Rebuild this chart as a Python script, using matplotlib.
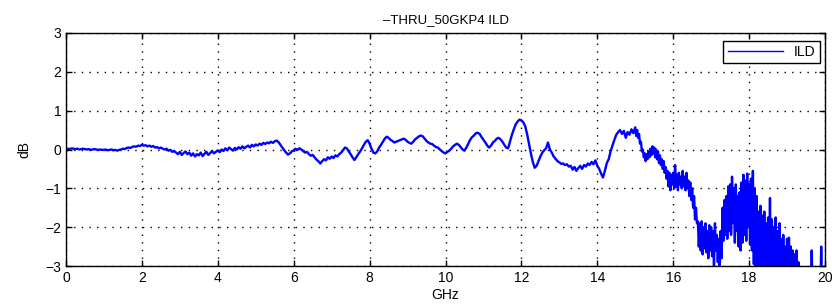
import numpy as np
import matplotlib
matplotlib.use("Agg")
import matplotlib.pyplot as plt

plt.rcParams["font.family"] = ["Liberation Sans", "DejaVu Sans"]

title = "\u2013THRU_50GKP4 ILD"
x_label = "GHz"
y_label = "dB"
series_name = "ILD"

# 0 .. 14.95 GHz, 0.05 GHz steps
ild_low = [
    0.0, 0.02, 0.01, 0.03, 0.02, 0.01, 0.02, 0.0, 0.01, 0.02, 0.01, 0.0, 0.01, -0.01, 0.0, 0.01, 0.0, -0.01, 0.0, -0.01,
    -0.01, 0.0, -0.02, -0.01, 0.0, -0.02, -0.01, -0.03, -0.01, 0.0, 0.02, 0.01, 0.04, 0.05, 0.04, 0.07, 0.08, 0.07, 0.1, 0.09,
    0.12, 0.1, 0.11, 0.08, 0.1, 0.07, 0.09, 0.05, 0.06, 0.03, 0.05, 0.02, 0.0, 0.02, -0.03, -0.01, -0.06, -0.04, -0.08, -0.12,
    -0.06, -0.14, -0.09, -0.05, -0.12, -0.08, -0.16, -0.1, -0.18, -0.12, -0.15, -0.08, -0.17, -0.11, -0.06, -0.14, -0.09, -0.04, -0.1, -0.06,
    -0.02, -0.07, 0.0, -0.04, 0.03, -0.02, 0.05, 0.01, -0.03, 0.04, 0.0, 0.06, 0.02, 0.08, 0.03, 0.07, 0.1, 0.05, 0.12, 0.08,
    0.13, 0.1, 0.15, 0.12, 0.17, 0.14, 0.18, 0.16, 0.2, 0.17, 0.21, 0.23, 0.19, 0.12, 0.05, -0.02, -0.08, -0.13, -0.1, -0.05,
    -0.02, 0.02, -0.01, 0.03, 0.0, -0.04, -0.08, -0.06, -0.12, -0.16, -0.14, -0.2, -0.26, -0.3, -0.36, -0.3, -0.25, -0.28, -0.2, -0.24,
    -0.18, -0.22, -0.15, -0.18, -0.12, -0.08, -0.02, 0.05, 0.03, -0.05, -0.12, -0.2, -0.27, -0.2, -0.12, -0.05, 0.03, 0.12, 0.2, 0.24,
    0.15, 0.02, -0.08, -0.1, -0.05, 0.05, 0.12, 0.2, 0.28, 0.33, 0.3, 0.25, 0.22, 0.18, 0.2, 0.22, 0.24, 0.26, 0.28, 0.25,
    0.2, 0.17, 0.15, 0.2, 0.26, 0.3, 0.34, 0.36, 0.34, 0.28, 0.22, 0.18, 0.15, 0.14, 0.1, 0.06, 0.05, 0.0, -0.04, -0.08,
    -0.1, -0.06, -0.03, 0.02, 0.08, 0.12, 0.15, 0.12, 0.06, 0.0, -0.03, 0.05, 0.15, 0.25, 0.32, 0.36, 0.42, 0.43, 0.4, 0.32,
    0.25, 0.18, 0.1, 0.05, 0.1, 0.18, 0.22, 0.28, 0.3, 0.26, 0.2, 0.12, 0.05, 0.03, 0.2, 0.38, 0.52, 0.65, 0.72, 0.77,
    0.75, 0.7, 0.6, 0.4, 0.15, -0.1, -0.32, -0.47, -0.42, -0.3, -0.18, -0.08, -0.02, 0.03, 0.18, 0.0, -0.08, -0.18, -0.24, -0.3,
    -0.33, -0.37, -0.36, -0.4, -0.38, -0.44, -0.42, -0.52, -0.45, -0.55, -0.48, -0.42, -0.5, -0.4, -0.44, -0.36, -0.4, -0.32, -0.38, -0.28,
    -0.42, -0.5, -0.62, -0.72, -0.55, -0.35, -0.25, -0.05, 0.1, 0.25, 0.38, 0.45, 0.5, 0.4, 0.48, 0.3, 0.45, 0.38, 0.52, 0.42,
]

# 15 .. 20 GHz, 0.025 GHz steps (noisy part)
ild_high = [
    0.57, 0.35, 0.5, 0.3, 0.4, 0.15, 0.2, -0.05, 0.0, -0.2, -0.1, -0.3, -0.12, -0.25, -0.05, -0.2, 0.02, -0.15, 0.08, -0.1,
    0.05, -0.2, 0.0, -0.25, -0.05, -0.35, -0.15, -0.4, -0.25, -0.5, -0.3, -0.6, -0.45, -0.75, -0.55, -0.95, -0.6, -1.05, -0.65, -0.9,
    -0.6, -1.0, -0.4, -0.95, -0.65, -1.05, -0.6, -0.9, -0.7, -1.0, -0.55, -0.95, -0.7, -1.05, -0.6, -1.0, -0.8, -1.2, -0.85, -1.3,
    -1.0, -1.5, -1.2, -1.8, -1.5, -1.9, -1.85, -2.5, -1.9, -2.6, -1.85, -2.7, -2.0, -2.55, -1.9, -2.65, -2.1, -2.8, -1.95, -2.6,
    -2.0, -2.75, -2.1, -3.05, -1.9, -2.6, -2.2, -2.9, -2.3, -3.1, -2.1, -2.8, -1.5, -2.35, -1.3, -2.2, -1.2, -2.3, -0.95, -2.1,
    -0.9, -2.2, -0.7, -1.9, -1.0, -2.4, -0.9, -2.1, -1.2, -2.5, -1.1, -2.6, -0.85, -2.4, -0.65, -2.2, -0.8, -2.35, -0.62, -2.0,
    -0.9, -2.45, -0.75, -2.6, -0.55, -2.95, -1.0, -3.1, -1.2, -3.2, -1.6, -3.3, -1.45, -3.2, -1.7, -3.3, -1.6, -3.4, -1.9, -3.3,
    -1.75, -3.3, -1.25, -3.4, -1.8, -3.2, -2.0, -3.4, -1.75, -3.5, -2.1, -3.3, -1.9, -3.4, -2.3, -3.5, -2.2, -3.4, -2.5, -3.5,
    -2.3, -3.5, -2.27, -3.6, -2.5, -3.5, -2.6, -3.6, -2.7, -3.5, -2.6, -3.6, -2.9, -3.6, -3.1, -3.7, -3.2, -3.6, -3.3, -3.7,
    -3.4, -3.8, -3.2, -3.7, -3.5, -3.8, -2.6, -3.7, -3.3, -3.9, -3.4, -3.8, -3.5, -3.9, -3.3, -3.8, -2.5, -3.9, -3.4, -3.8, -3.5,
]

x_ticks = [0, 2, 4, 6, 8, 10, 12, 14, 16, 18, 20]
y_ticks = [-3, -2, -1, 0, 1, 2, 3]

freq = np.concatenate([np.arange(len(ild_low)) * 0.05,
                       15 + np.arange(len(ild_high)) * 0.025])
ild = np.array(ild_low + ild_high)

fig = plt.figure(figsize=(8.32, 3.06), dpi=100)
ax = fig.add_axes([66 / 832, 40 / 306, 759 / 832, 233 / 306])

ax.plot(freq, ild, color="#0000ff", linewidth=1.7, label=series_name)

ax.set_xlim(0, 20)
ax.set_ylim(-3, 3)
ax.set_xticks(x_ticks)
ax.set_yticks(y_ticks)
ax.grid(True, linestyle=(0, (1, 4.5)), color="black", linewidth=1)
ax.tick_params(direction="in", length=4.5, top=True, right=True, labelsize=10, width=1)
for s in ax.spines.values():
    s.set_linewidth(1)

ax.set_title(title, fontsize=9.5, pad=7)
ax.set_xlabel(x_label, fontsize=10, labelpad=2)
ax.set_ylabel(y_label, fontsize=10, labelpad=10)

leg = ax.legend(loc="upper right", bbox_to_anchor=(0.9934, 0.966), borderaxespad=0,
                fancybox=False, framealpha=1, edgecolor="black", fontsize=10,
                handlelength=4.0, borderpad=0.3)
leg.get_frame().set_linewidth(1)
for line in leg.get_lines():
    line.set_linewidth(1)

fig.savefig("out.png", dpi=100)
